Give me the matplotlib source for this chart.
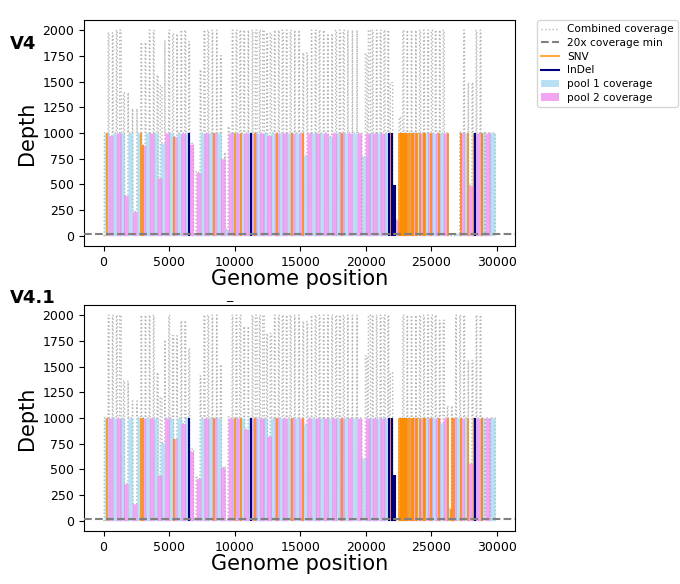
import numpy as np
import matplotlib
matplotlib.use("Agg")
from matplotlib import pyplot as plt
from matplotlib.lines import Line2D
from matplotlib.patches import Patch

genome_length = 29903

# amplicon start positions (odd = pool 1, even = pool 2)
amplicon_starts = [
    25, 324, 644, 944, 1200, 1490, 1830, 2168, 2505, 2826,
    3144, 3460, 3771, 4054, 4294, 4636, 4939, 5230, 5563, 5868,
    6167, 6467, 6718, 7035, 7340, 7626, 7925, 8252, 8595, 8886,
    9204, 9477, 9784, 10076, 10362, 10666, 10999, 11306, 11555, 11863,
    12110, 12417, 12690, 13005, 13319, 13599, 13918, 14207, 14545, 14865,
    15171, 15481, 15827, 16118, 16416, 16748, 17065, 17381, 17674, 17966,
    18253, 18596, 18950, 19300, 19700, 19950, 20172, 20472, 20786, 21075,
    21357, 21658, 21850, 22262, 22516, 22798, 23122, 23443, 23789, 24078,
    24391, 24696, 24978, 25279, 25601, 25880, 26197, 26520, 26835, 27141,
    27446, 27784, 28081, 28394, 28700, 29090, 29480,
]

# normalised depth per amplicon
depth_v4 = [
    1000, 975, 1000, 1000, 1000, 392, 1000, 235, 1000, 880,
    1000, 1000, 1000, 560, 900, 1000, 1000, 965, 1000, 1000,
    1000, 890, 10, 615, 1000, 1000, 1000, 1000, 1000, 750,
    60, 1000, 1000, 1000, 1000, 1000, 1000, 1000, 1000, 1000,
    1000, 975, 1000, 1000, 1000, 1000, 1000, 1000, 1000, 1000,
    780, 1000, 1000, 1000, 1000, 1000, 965, 1000, 1000, 1000,
    1000, 1000, 1000, 1000, 770, 1000, 1000, 1000, 1000, 1000,
    1000, 1000, 490, 150, 1000, 1000, 1000, 1000, 1000, 1000,
    1000, 1000, 1000, 1000, 1000, 1000, 0, 0, 15, 1000,
    1000, 490, 1000, 1000, 1000, 1000, 1000,
]

depth_v41 = [
    1000, 1000, 1000, 1000, 1000, 360, 1000, 165, 1000, 1000,
    1000, 1000, 1000, 440, 760, 1000, 1000, 800, 1000, 945,
    1000, 675, 25, 410, 1000, 1000, 1000, 1000, 1000, 517,
    10, 1000, 1000, 1000, 1000, 890, 1000, 1000, 1000, 1000,
    1000, 822, 1000, 1000, 1000, 1000, 1000, 1000, 1000, 1000,
    940, 1000, 1000, 1000, 1000, 1000, 1000, 1000, 1000, 1000,
    1000, 1000, 1000, 1000, 605, 1000, 1000, 1000, 1000, 1000,
    1000, 1000, 440, 0, 1000, 1000, 1000, 1000, 1000, 1000,
    1000, 1000, 1000, 1000, 950, 1000, 117, 1000, 1000, 1000,
    1000, 560, 1000, 1000, 1000, 1000, 1000,
]

snv_positions = [
    241, 2832, 3037, 5386, 8393, 10029, 10449, 11537, 13195, 14408,
    15240, 18163, 21762, 21846, 22578, 22673, 22674, 22679, 22686, 22688,
    22775, 22786, 22792, 22813, 22882, 22898, 22992, 22995, 23013, 23040,
    23048, 23055, 23063, 23075, 23202, 23403, 23525, 23599, 23604, 23854,
    23948, 24130, 24424, 24469, 24503, 25000, 25584, 26270, 26530, 26577,
    26709, 27259, 27807, 28271, 28311, 28881, 28882, 28883,
]
indel_positions = [6513, 11283, 21765, 21987, 22194, 22204, 28362]

versions = ["V4", "V4.1"]
depths = [depth_v4, depth_v41]


def pool_coverage(depth, pool):
    cov = np.zeros(genome_length + 1)
    for i, (s, d) in enumerate(zip(amplicon_starts, depth)):
        if i % 2 == pool:
            cov[s + 25:s + 395] = np.maximum(cov[s + 25:s + 395], d)
    return cov


fig = plt.figure(figsize=(6.8, 5.84), dpi=100)
ax1 = fig.add_axes([0.1235, 0.5788, 0.634, 0.387])
ax2 = fig.add_axes([0.1235, 0.0908, 0.634, 0.387])

pos = np.arange(genome_length + 1)
snv = np.array(snv_positions)
indel = np.array(indel_positions)

blue = "skyblue"
pink = "violet"

for ax, name, depth in zip([ax1, ax2], versions, depths):
    pool1 = pool_coverage(depth, 0)
    pool2 = pool_coverage(depth, 1)
    combined = pool1 + pool2
    top = np.maximum(pool1, pool2)

    ax.plot(pos, combined, linestyle=":", color="#b5b5b5", lw=1, zorder=1)
    ax.fill_between(pos, pool1, color=blue, alpha=0.6, lw=0, zorder=2)
    ax.fill_between(pos, pool2, color=pink, alpha=0.72, lw=0, zorder=3)
    ax.vlines(snv, 0, top[snv], color="darkorange", lw=1.3, alpha=0.85, zorder=4)
    ax.vlines(indel, 0, top[indel], color="navy", lw=1.5, zorder=5)
    ax.axhline(20, color="grey", linestyle="--", lw=1.5, zorder=6)

    ax.set_yticks(range(0, 2001, 250))
    ax.set_xticks(range(0, 30001, 5000))
    ax.tick_params(labelsize=9)
    ax.set_xlabel("Genome position", fontsize=15, labelpad=0)
    ax.set_ylabel("Depth", fontsize=15)

fig.text(0.015, 0.925, "V4", fontsize=13, fontweight="bold", va="center")
fig.text(0.015, 0.49, "V4.1", fontsize=13, fontweight="bold", va="center")
fig.text(229 / 680, 1 - 302 / 584, "_", fontsize=9, ha="center", va="bottom")

handles = [
    Line2D([], [], linestyle=":", color="#b5b5b5", lw=1),
    Line2D([], [], linestyle="--", color="grey", lw=1.5),
    Line2D([], [], color="darkorange", lw=1.5, alpha=0.75),
    Line2D([], [], color="navy", lw=1.5),
    Patch(facecolor=blue, alpha=0.6, lw=0),
    Patch(facecolor=pink, alpha=0.72, lw=0),
]
labels = ["Combined coverage", "20x coverage min", "SNV", "InDel",
          "pool 1 coverage", "pool 2 coverage"]
ax1.legend(handles, labels, loc="upper left", bbox_to_anchor=(1.05, 1.0),
           fontsize=7.6, borderaxespad=0, handlelength=1.7, labelspacing=0.35)

plt.savefig("out.png", dpi=100)
